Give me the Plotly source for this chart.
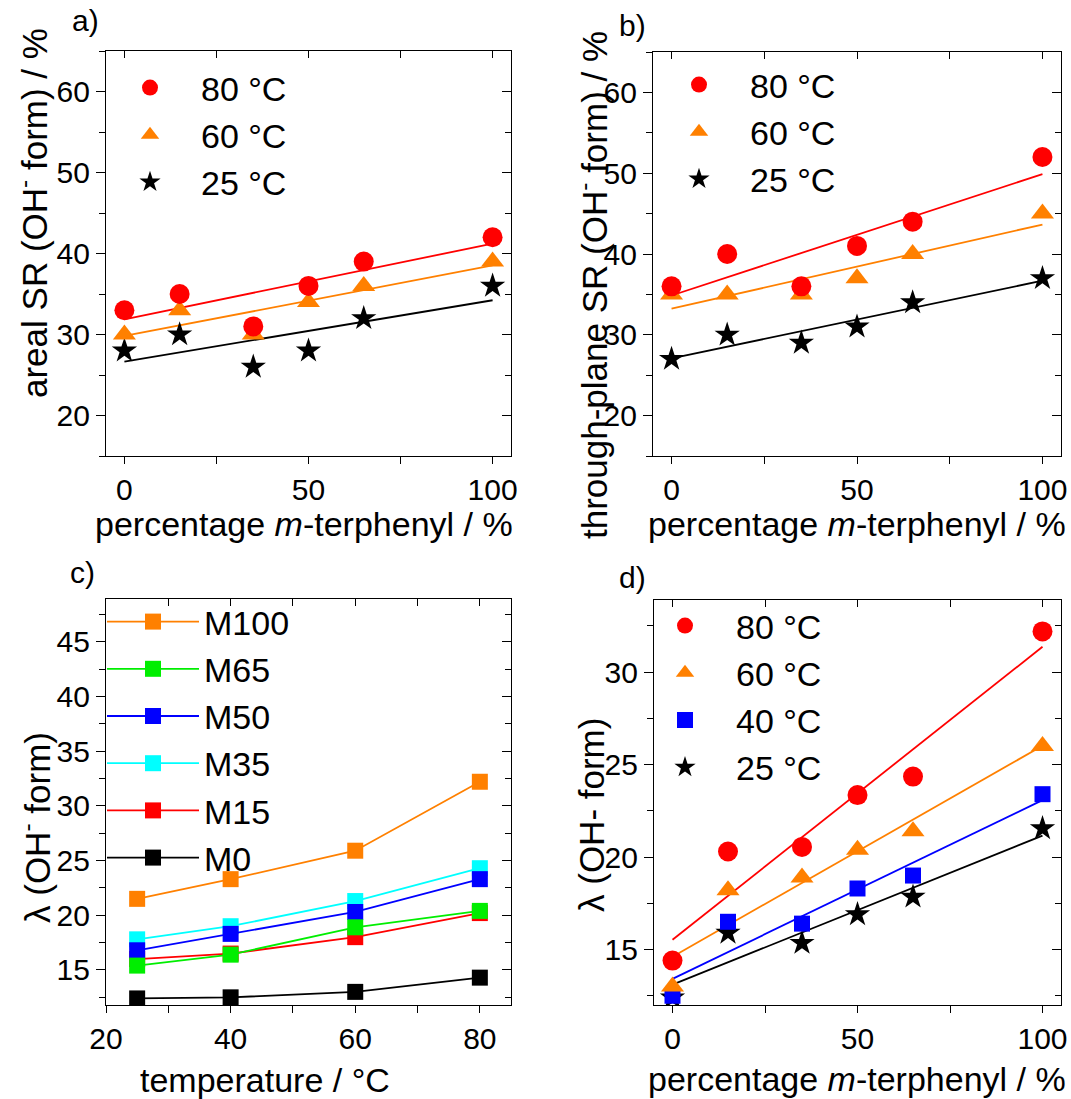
import numpy as np
import plotly.graph_objects as go

# ---------------- data ----------------
pct = [0, 15, 35, 50, 65, 100]
areal_80 = [33, 35, 31, 36, 39, 42]
areal_60 = [30, 33, 30, 34, 36, 39]
areal_25 = [28, 30, 26, 28, 32, 36]
tp_80 = [36, 40, 36, 41, 44, 52]
tp_60 = [35, 35, 35, 37, 40, 45]
tp_25 = [27, 30, 29, 31, 34, 37]

temps = [25, 40, 60, 80]
lam_M0 = [12.4, 12.5, 13.0, 14.3]
lam_M15 = [16.0, 16.5, 18.0, 20.2]
lam_M35 = [17.8, 19.0, 21.3, 24.3]
lam_M50 = [16.8, 18.3, 20.3, 23.3]
lam_M65 = [15.4, 16.4, 18.9, 20.4]
lam_M100 = [21.5, 23.3, 25.9, 32.2]

lam_80 = [14.4, 20.3, 20.55, 23.35, 24.35, 32.2]
lam_60 = [13.0, 18.2, 18.9, 20.4, 21.4, 26.0]
lam_40 = [12.5, 16.5, 16.4, 18.3, 19.0, 23.4]
lam_25 = [12.4, 15.9, 15.35, 16.9, 17.85, 21.55]

# ---------------- style ----------------
W, H = 1071, 1099
FONT = "Liberation Sans, Arial, sans-serif"
RED, ORANGE, BLACK = "#FF0000", "#FF8000", "#000000"
BLUE, GREEN, CYAN = "#0000FF", "#00EE00", "#00FFFF"
TICKF = 30
LEGF = 34
TITF = 34
YTITF = 35


def px(x):
    return x / W


def py(y):
    return 1 - y / H


boxes = {  # left, top, right, bottom in pixels
    1: (106, 51, 511, 456),
    2: (653, 52, 1061, 456),
    3: (106, 599, 511, 1005),
    4: (654, 600, 1061, 1005),
}

fig = go.Figure()


def axis_common():
    return dict(linecolor="black", linewidth=1.3, showgrid=False,
                zeroline=False, tickcolor="black", tickwidth=1.2, automargin=False,
                tickfont=dict(family=FONT, size=TICKF, color="black"))


def setup_axes(n, xr, xdt, xmin, yr, ydt, ymin):
    l, t, r, b = boxes[n]
    xd = [px(l), px(r)]
    yd = [py(b), py(t)]
    sx = "" if n == 1 else str(n)
    xa = axis_common()
    xa.update(domain=xd, anchor="y" + sx, range=xr, dtick=xdt, tick0=0,
              showline=True, mirror=True,
              ticks="outside", ticklen=7, ticklabelstandoff=0,
              minor=dict(dtick=xmin, ticks="outside", ticklen=7, tickcolor="black", tickwidth=1.2))
    ya = axis_common()
    ya.update(domain=yd, anchor="x" + sx, range=yr, dtick=ydt, tick0=0,
              showline=True, mirror=True,
              ticks="outside", ticklen=9, ticklabelstandoff=0,
              minor=dict(dtick=ymin, ticks="outside", ticklen=6, tickcolor="black", tickwidth=1.2))
    fig.layout["xaxis" + sx] = xa
    fig.layout["yaxis" + sx] = ya
    m = str(n + 4)
    xt = axis_common()
    xt.update(domain=xd, anchor="y" + sx, overlaying="x" + sx, side="top", range=xr,
              showline=False, dtick=xdt, tick0=0, ticks="inside", ticklen=7, showticklabels=False,
              minor=dict(dtick=xmin, ticks="inside", ticklen=7, tickcolor="black", tickwidth=1.2))
    yt = axis_common()
    yt.update(domain=yd, anchor="x" + sx, overlaying="y" + sx, side="right", range=yr,
              showline=False, dtick=ydt, tick0=0, ticks="inside", ticklen=9, showticklabels=False,
              minor=dict(dtick=ymin, ticks="inside", ticklen=6, tickcolor="black", tickwidth=1.2))
    fig.layout["xaxis" + m] = xt
    fig.layout["yaxis" + m] = yt
    # empty traces so that the mirrored tick axes get drawn
    fig.add_trace(go.Scatter(x=[], y=[], xaxis="x" + m, yaxis="y" + sx,
                             showlegend=False, hoverinfo="skip"))
    fig.add_trace(go.Scatter(x=[], y=[], xaxis="x" + sx, yaxis="y" + m,
                             showlegend=False, hoverinfo="skip"))


setup_axes(1, [-5, 105], 50, 25, [15, 65], 10, 5)
setup_axes(2, [-5, 105], 50, 25, [15, 65], 10, 5)
setup_axes(3, [20, 85], 20, 10, [11.8, 48.9], 5, 2.5)
setup_axes(4, [-5, 105], 50, 25, [12, 33.9], 5, 2.5)


def fit_line(x, y, color, xa, ya):
    k, c = np.polyfit(x, y, 1)
    xs = np.array([min(x), max(x)], dtype=float)
    fig.add_trace(go.Scatter(x=xs, y=k * xs + c, mode="lines", xaxis=xa, yaxis=ya,
                             line=dict(color=color, width=1.8), showlegend=False,
                             hoverinfo="skip"))


def points(x, y, name, color, symbol, size, xa, ya, leg):
    fig.add_trace(go.Scatter(x=x, y=y, mode="markers", name=name, xaxis=xa, yaxis=ya,
                             marker=dict(color=color, symbol=symbol, size=size, line=dict(width=0)),
                             legend=leg))


# panel a
for y, c in [(areal_25, BLACK), (areal_60, ORANGE), (areal_80, RED)]:
    fit_line(pct, y, c, "x", "y")
points(pct, areal_25, "25 °C", BLACK, "star", 19, "x", "y", "legend")
points(pct, areal_60, "60 °C", ORANGE, "triangle-up", 20, "x", "y", "legend")
points(pct, areal_80, "80 °C", RED, "circle", 20, "x", "y", "legend")

# panel b
for y, c in [(tp_25, BLACK), (tp_60, ORANGE), (tp_80, RED)]:
    fit_line(pct, y, c, "x2", "y2")
points(pct, tp_25, "25 °C", BLACK, "star", 19, "x2", "y2", "legend2")
points(pct, tp_60, "60 °C", ORANGE, "triangle-up", 20, "x2", "y2", "legend2")
points(pct, tp_80, "80 °C", RED, "circle", 20, "x2", "y2", "legend2")

# panel c
for y, name, c in [(lam_M0, "M0", BLACK), (lam_M15, "M15", RED), (lam_M35, "M35", CYAN),
                   (lam_M50, "M50", BLUE), (lam_M65, "M65", GREEN), (lam_M100, "M100", ORANGE)]:
    fig.add_trace(go.Scatter(x=temps, y=y, mode="lines+markers", name=name, xaxis="x3", yaxis="y3",
                             line=dict(color=c, width=1.8),
                             marker=dict(color=c, symbol="square", size=16, line=dict(width=0)),
                             legend="legend3"))

# panel d
for y, c in [(lam_25, BLACK), (lam_40, BLUE), (lam_60, ORANGE), (lam_80, RED)]:
    fit_line(pct, y, c, "x4", "y4")
points(pct, lam_25, "25 °C", BLACK, "star", 19, "x4", "y4", "legend4")
points(pct, lam_40, "40 °C", BLUE, "square", 16, "x4", "y4", "legend4")
points(pct, lam_60, "60 °C", ORANGE, "triangle-up", 20, "x4", "y4", "legend4")
points(pct, lam_80, "80 °C", RED, "circle", 20, "x4", "y4", "legend4")


def legend_cfg(x, y, iw=92):
    return dict(x=px(x), y=py(y), xanchor="left", yanchor="top", traceorder="reversed",
                bgcolor="rgba(0,0,0,0)", borderwidth=0, itemwidth=iw,
                font=dict(family=FONT, size=LEGF, color="black"), tracegroupgap=0)


ann = []


def text(x, y, s, size, angle=0):
    ann.append(dict(x=px(x), y=py(y), xref="paper", yref="paper", text=s, showarrow=False,
                    textangle=angle, xanchor="center", yanchor="middle",
                    font=dict(family=FONT, size=size, color="black")))


text(85, 21, "a)", 30)
text(632, 26, "b)", 30)
text(82, 572, "c)", 30)
text(632, 577, "d)", 30)
text(304, 524, "percentage <i>m</i>-terphenyl / %", TITF)
text(857, 524, "percentage <i>m</i>-terphenyl / %", TITF)
text(265, 1080, "temperature / °C", TITF)
text(857, 1079, "percentage <i>m</i>-terphenyl / %", TITF)
text(32, 213, "areal SR (OH<sup>-</sup> form) / %", YTITF, -90)
text(592, 285, "through-plane SR (OH<sup>-</sup> form) / %", YTITF, -90)
text(35, 828, "λ (OH<sup>-</sup> form)", YTITF, -90)
text(591, 815, "λ (OH- form)", YTITF, -90)

fig.update_layout(
    width=W, height=H, margin=dict(l=0, r=0, t=0, b=0, autoexpand=False),
    paper_bgcolor="white", plot_bgcolor="white",
    font=dict(family=FONT, color="black"),
    showlegend=True,
    legend=legend_cfg(99, 59),
    legend2=legend_cfg(648, 56),
    legend3=legend_cfg(102, 593),
    legend4=legend_cfg(634, 597),
    annotations=ann,
)

fig.write_html("out.html", config={"displayModeBar": False},
               post_script="document.body.style.margin='0px';")
